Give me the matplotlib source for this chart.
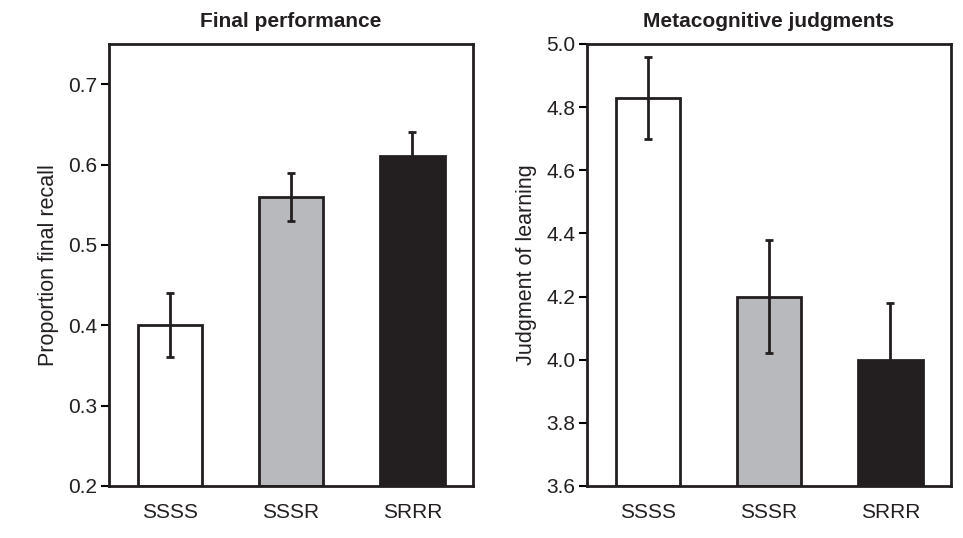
# Final performance vs. metacognitive judgments, two bar panels with error bars
import numpy as np
import matplotlib.pyplot as plt

plt.rcParams['font.family'] = ['Liberation Sans', 'DejaVu Sans']

conditions = ['SSSS', 'SSSR', 'SRRR']
bar_colors = ['white', '#b8b9bc', '#231f20']

# Final performance (proportion recalled)
recall_mean = [0.40, 0.56, 0.61]
recall_err = [0.04, 0.03, 0.03]

# Metacognitive judgments (JOL)
jol_mean = [4.83, 4.20, 4.00]
jol_err = [0.13, 0.18, 0.18]

fig = plt.figure(figsize=(9.63, 5.38), dpi=100)
ax1 = fig.add_axes([0.1132, 0.0967, 0.378, 0.8216])
ax2 = fig.add_axes([0.6096, 0.0967, 0.378, 0.8216])

x = np.arange(len(conditions))


def draw_panel(ax, means, errs, ylim, yticks, ylabel, title):
    ax.bar(x, np.array(means) - ylim[0], bottom=ylim[0], width=0.53,
           color=bar_colors, edgecolor='#231f20', linewidth=2)
    ax.errorbar(x, means, yerr=errs, fmt='none', ecolor='#231f20',
                elinewidth=2, capsize=3, capthick=2)
    ax.set_xlim(-0.5, 2.5)
    ax.set_ylim(*ylim)
    ax.set_yticks(yticks)
    ax.set_xticks(x)
    ax.set_xticklabels(conditions)
    ax.tick_params(axis='x', length=0, pad=12, labelsize=15,
                   labelcolor='#231f20')
    ax.tick_params(axis='y', direction='out', length=6, width=1.5,
                   labelsize=15, pad=2.5, labelcolor='#231f20')
    for s in ax.spines.values():
        s.set_linewidth(2)
        s.set_color('#231f20')
    ax.set_ylabel(ylabel, fontsize=15.5, labelpad=6.5, color='#231f20')
    ax.set_title(title, fontsize=15, fontweight='bold', pad=12,
                 color='#231f20')


draw_panel(ax1, recall_mean, recall_err, (0.2, 0.75),
           [0.2, 0.3, 0.4, 0.5, 0.6, 0.7], 'Proportion final recall',
           'Final performance')
ax1.set_yticklabels(['0.2', '0.3', '0.4', '0.5', '0.6', '0.7'])

draw_panel(ax2, jol_mean, jol_err, (3.6, 5.0),
           [3.6, 3.8, 4.0, 4.2, 4.4, 4.6, 4.8, 5.0], 'Judgment of learning',
           'Metacognitive judgments')
ax2.set_yticklabels(['3.6', '3.8', '4.0', '4.2', '4.4', '4.6', '4.8', '5.0'])

fig.savefig('out.png', dpi=100)
